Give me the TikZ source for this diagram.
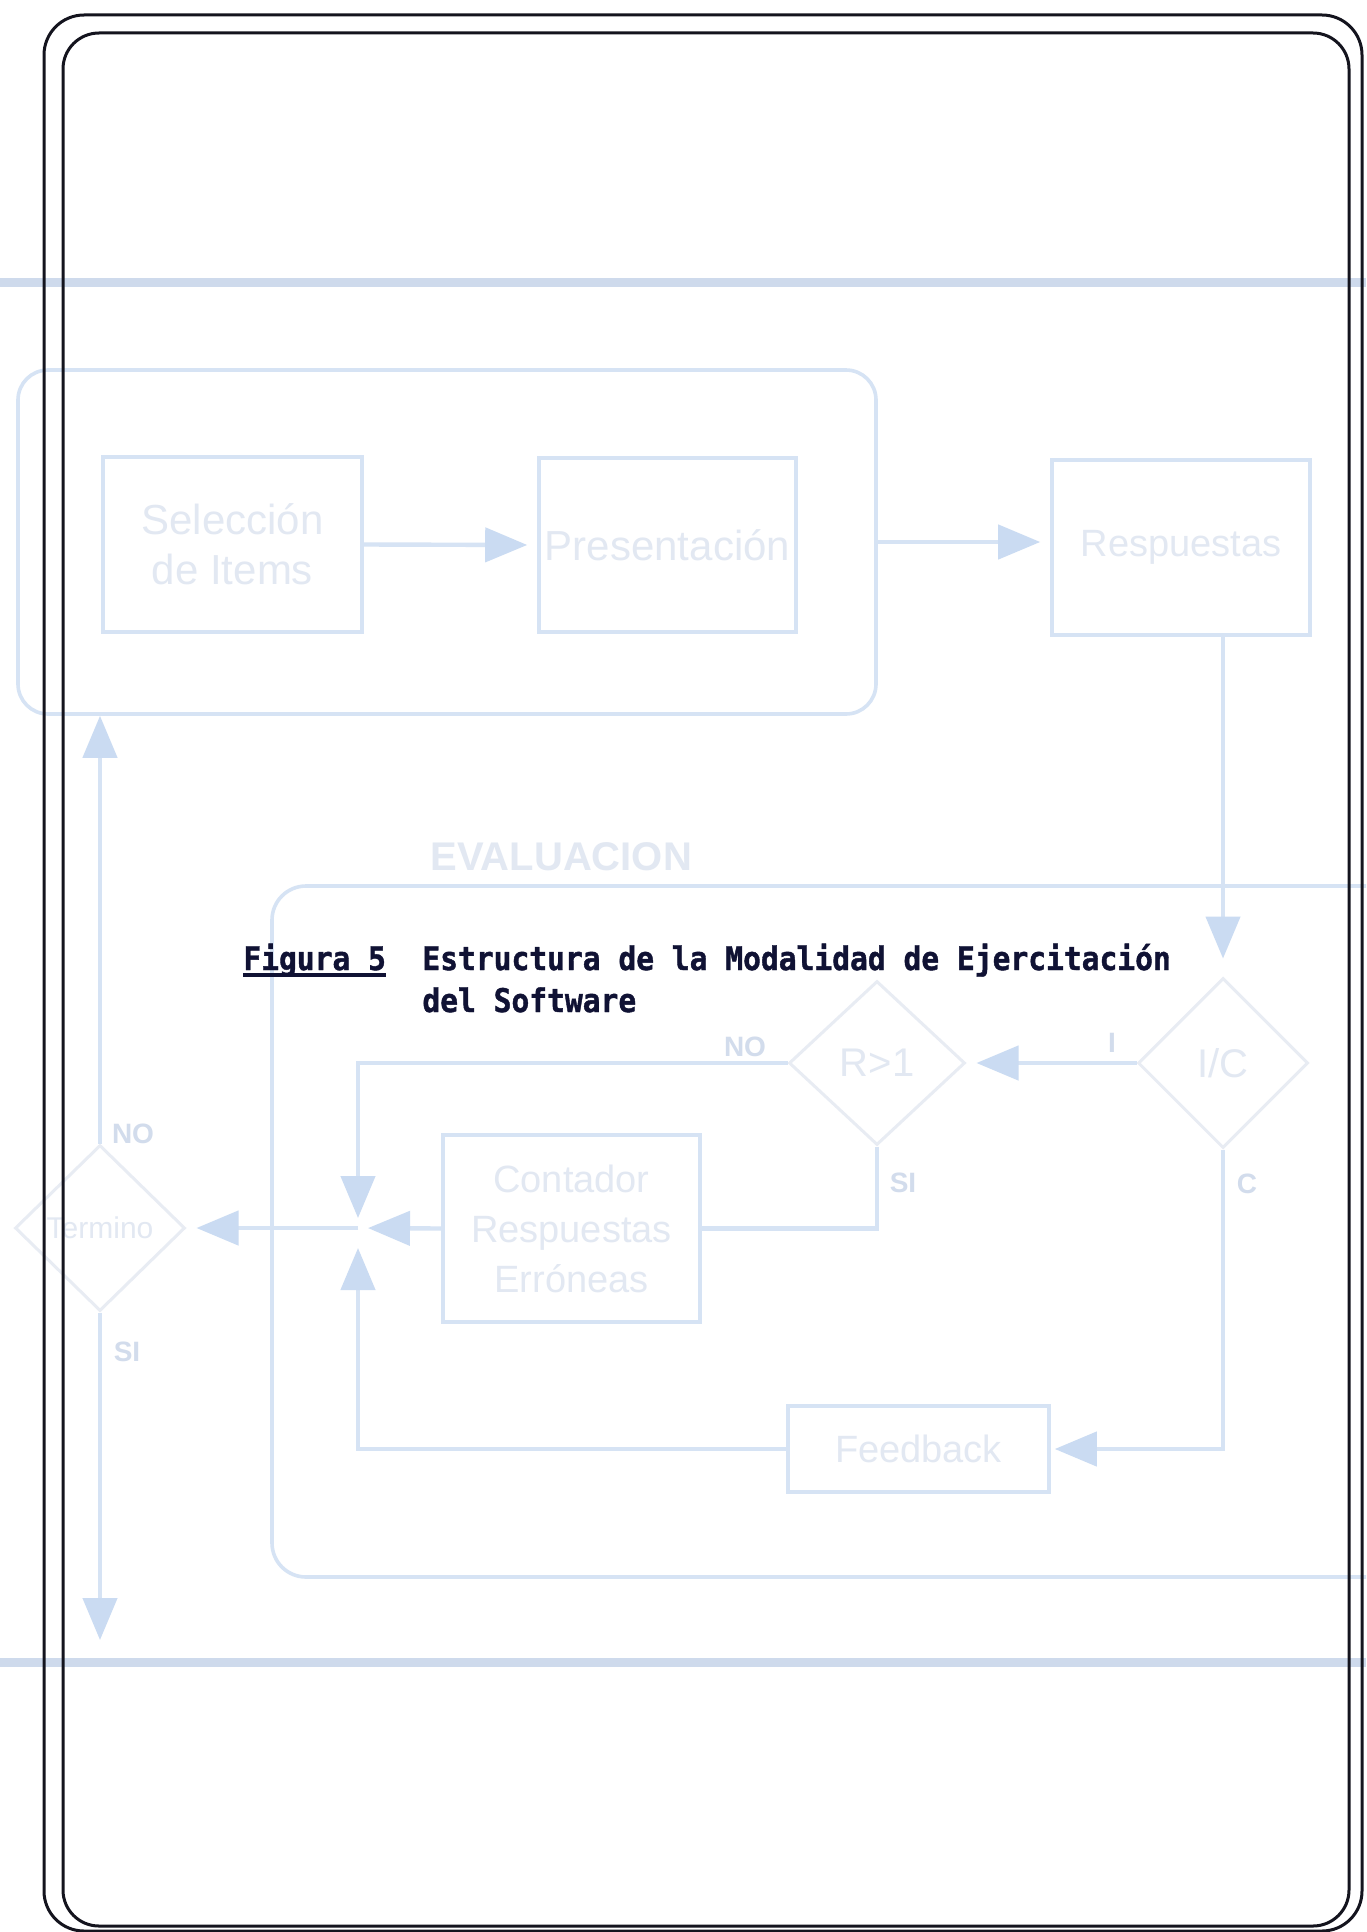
\documentclass[tikz,border=0pt]{standalone}
\usepackage{fontspec}
\setmainfont{Liberation Sans}
\newfontfamily\monocap{DejaVu Sans Mono}[BoldFeatures={FakeBold=1.3}]
\usetikzlibrary{shapes.geometric,arrows.meta}

\definecolor{flowline}{RGB}{214,227,244}
\definecolor{flowtip}{RGB}{202,219,242}
\definecolor{flowtext}{RGB}{226,232,242}
\definecolor{diamline}{RGB}{232,236,243}
\definecolor{flowlabel}{RGB}{210,220,236}
\definecolor{bandblue}{RGB}{206,218,236}
\definecolor{captionink}{RGB}{16,18,52}
\definecolor{frameink}{RGB}{20,20,30}

\begin{document}
\begin{tikzpicture}[x=0.5pt,y=-0.5pt,
  blockbox/.style={draw=flowline, line width=1.8pt, inner sep=0pt, align=center,
    text=flowtext, font={\fontsize{19}{25}\selectfont}},
  groupbox/.style={draw=flowline, line width=1.8pt, rounded corners=15pt, inner sep=0pt},
  decision/.style={diamond, draw=diamline, line width=1.5pt, inner sep=0pt,
    text=flowtext, font={\fontsize{20}{24}\selectfont}},
  conn/.style={draw=flowline, line width=2.2pt, shorten >=5pt,
    -{Triangle[length=21pt,width=17pt,fill=flowtip,color=flowtip]}},
  plainconn/.style={draw=flowline, line width=2.2pt},
  branch/.style={text=flowlabel, inner sep=0pt, font={\bfseries\fontsize{14}{16}\selectfont}},
  caption/.style={text=captionink, inner sep=0pt, anchor=base west,
    font={\monocap\bfseries\fontsize{14.8}{20}\selectfont}},
  frameline/.style={draw=frameink, line width=1.5pt},
  band/.style={draw=bandblue, line width=4.5pt}
]
\useasboundingbox (0,0) rectangle (1366,1932);
\fill[white] (0,0) rectangle (1366,1932);
\clip (0,0) rectangle (1366,1932);

% horizontal bands across the sheet
\draw[band] (0,282) -- (1366,282);
\draw[band] (0,1662) -- (1366,1662);

% presentation group
\node[groupbox, minimum width=429pt, minimum height=172pt] (grp) at (447,542) {};
\node[blockbox, minimum width=129.5pt, minimum height=87.5pt,
      font={\fontsize{21}{25}\selectfont}] (sel) at (232.5,544.5) {Selección\\de Items};
\node[blockbox, minimum width=128.5pt, minimum height=87pt,
      font={\fontsize{21}{25}\selectfont}] (pres) at (667.5,545) {Presentación};
\node[blockbox, minimum width=129pt, minimum height=87.5pt] (resp) at (1181,547.5) {Respuestas};

% evaluation group
\node[groupbox, rounded corners=17pt, minimum width=574pt, minimum height=345.5pt] (evalbox) at (846,1231.5) {};
\node[anchor=base west, inner sep=0pt, text=flowtext,
      font={\bfseries\fontsize{20}{24}\selectfont}] (evaltitle) at (430,870) {EVALUACION};

\node[decision, minimum width=85pt, minimum height=85pt] (ic) at (1223,1063) {I/C};
\node[decision, minimum width=88pt, minimum height=82pt] (r1) at (877,1063) {R>1};
\node[decision, minimum width=85pt, minimum height=83pt,
      font={\fontsize{15}{18}\selectfont}] (term) at (100,1228) {Termino};
\node[blockbox, minimum width=128.5pt, minimum height=93.5pt] (cont) at (571.5,1228.5) {Contador\\Respuestas\\Erróneas};
\node[blockbox, minimum width=130.5pt, minimum height=43pt] (fb) at (918.5,1449) {Feedback};

\coordinate (junc) at (358,1228);
\coordinate (exitend) at (100,1640);

% connectors
\draw[conn] (sel.east) -- (pres.west);
\draw[conn] (grp.east) -- (grp.east -| resp.west);
\draw[conn, shorten >=9pt] (resp.south -| ic.north) -- (ic.north);
\draw[conn] (ic.west) -- (r1.east);
\draw[conn] (r1.west) -| (junc);
\draw[plainconn] (r1.south) |- (cont.east);
\draw[conn] (cont.west) -- (junc);
\draw[conn, shorten >=2pt] (ic.south) |- (fb.east);
\draw[conn, shorten >=10pt] (fb.west) -| (junc);
\draw[conn] (junc) -- (term.east);
\draw[conn, shorten >=0pt] (term.north) -- (term.north |- grp.south);
\draw[conn, shorten >=0pt] (term.south) -- (exitend);

% branch labels
\node[branch] (lblI) at (1112,1043) {I};
\node[branch] (lblNOr) at (745,1047) {NO};
\node[branch] (lblSIr) at (903,1183) {SI};
\node[branch] (lblC) at (1247,1184) {C};
\node[branch] (lblNOt) at (133,1134) {NO};
\node[branch] (lblSIt) at (127,1352) {SI};

% caption
\node[caption] (fignum) at (243,970) {\scalebox{1}[1.1]{Figura 5}};
\draw[captionink, line width=1.6pt] ([yshift=-2.5pt]fignum.base west) -- ([yshift=-2.5pt]fignum.base east);
\node[caption] (figtitle) at (422,970) {\scalebox{1}[1.1]{Estructura de la Modalidad de Ejercitación}};
\node[caption] (figtitleb) at (422,1012) {\scalebox{1}[1.1]{del Software}};

% double page frame
\draw[frameline, rounded corners=20pt] (44,15) rectangle (1362,1931);
\draw[frameline, rounded corners=18pt] (63,33) rectangle (1349,1926);
\end{tikzpicture}
\end{document}
